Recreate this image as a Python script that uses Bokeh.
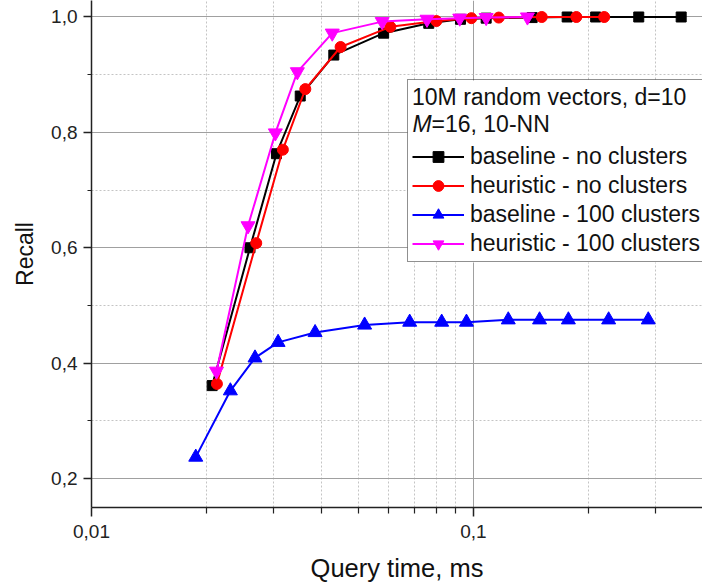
from bokeh.plotting import figure
from bokeh.models import (Range1d, FixedTicker, CustomJSTickFormatter, Legend,
                          LegendItem, Label, BoxAnnotation)
from bokeh.embed import file_html
from bokeh.resources import INLINE

# ---- data ----
bl_nc_x = [0.0207, 0.0260, 0.0305, 0.0352, 0.0431, 0.0582, 0.0764, 0.0925, 0.108, 0.1425, 0.176, 0.209, 0.271, 0.350]
bl_nc_y = [0.361, 0.600, 0.763, 0.863, 0.934, 0.972, 0.989, 0.996, 0.998, 0.999, 1.0, 1.0, 1.0, 1.0]

he_nc_x = [0.0213, 0.0270, 0.0317, 0.0363, 0.0449, 0.0606, 0.0800, 0.0988, 0.1165, 0.151, 0.186, 0.220]
he_nc_y = [0.364, 0.608, 0.770, 0.875, 0.948, 0.983, 0.993, 0.998, 0.999, 1.0, 1.0, 1.0]

bl_c_x = [0.01875, 0.0231, 0.0268, 0.0308, 0.0385, 0.0519, 0.0681, 0.0826, 0.0959, 0.1234, 0.149, 0.1773, 0.226, 0.287]
bl_c_y = [0.237, 0.352, 0.409, 0.436, 0.453, 0.466, 0.471, 0.471, 0.471, 0.475, 0.475, 0.475, 0.475, 0.475]

he_c_x = [0.02125, 0.0257, 0.0303, 0.0346, 0.0427, 0.0577, 0.0756, 0.0921, 0.108, 0.1385]
he_c_y = [0.386, 0.638, 0.799, 0.905, 0.972, 0.992, 0.996, 0.998, 0.999, 1.0]

series_labels = ["baseline - no clusters", "heuristic - no clusters",
                 "baseline - 100 clusters", "heuristic - 100 clusters"]
legend_title = "10M random vectors, d=10"
legend_sub_italic = "M"
legend_sub_rest = "=16, 10-NN"

x_major = [0.01, 0.1, 1.0]
x_minor = [0.02, 0.03, 0.04, 0.05, 0.06, 0.07, 0.08, 0.09,
           0.2, 0.3, 0.4, 0.5, 0.6, 0.7, 0.8, 0.9]
y_major = [0.2, 0.4, 0.6, 0.8, 1.0]
y_minor = [0.3, 0.5, 0.7, 0.9]

FONT = "Liberation Sans"

p = figure(width=702, height=587, x_axis_type="log",
           x_range=Range1d(0.01, 0.398), y_range=Range1d(0.1497, 1.0286),
           output_backend="svg", toolbar_location=None,
           min_border_left=91, min_border_right=0, min_border_top=0,
           min_border_bottom=80)
p.outline_line_color = None
p.background_fill_color = "white"
p.border_fill_color = "white"

# axes
p.xaxis.ticker = FixedTicker(ticks=x_major, minor_ticks=x_minor)
p.yaxis.ticker = FixedTicker(ticks=y_major, minor_ticks=y_minor)
p.xaxis.formatter = CustomJSTickFormatter(code="return tick.toString().replace('.', ',');")
p.yaxis.formatter = CustomJSTickFormatter(code="return tick.toFixed(1).replace('.', ',');")
for ax in (p.xaxis, p.yaxis):
    ax.axis_line_color = "#222222"
    ax.axis_line_width = 1.5
    ax.major_tick_line_color = "#222222"
    ax.minor_tick_line_color = "#222222"
    ax.major_tick_line_width = 1.5
    ax.minor_tick_line_width = 1.2
    ax.major_tick_in = 0
    ax.minor_tick_in = 0
    ax.major_label_text_font = FONT
    ax.major_label_text_font_size = "19px"
    ax.major_label_text_color = "#222222"
    ax.axis_label_text_font = FONT
    ax.axis_label_text_font_style = "normal"
    ax.axis_label_text_color = "#111111"
p.xaxis.major_tick_out = 9
p.xaxis.minor_tick_out = 6
p.yaxis.major_tick_out = 8
p.yaxis.minor_tick_out = 4
p.xaxis.major_label_standoff = 8
p.yaxis.major_label_standoff = 6
p.xaxis.axis_label = "Query time, ms"
p.yaxis.axis_label = "Recall"
p.xaxis.axis_label_text_font_size = "25.5px"
p.yaxis.axis_label_text_font_size = "23px"
p.xaxis.axis_label_standoff = 13
p.yaxis.axis_label_standoff = 10

# grids
for g in (p.xgrid, p.ygrid):
    g.grid_line_color = "#a0a0a0"
    g.grid_line_width = 1
    g.minor_grid_line_color = "#c4c4c4"
    g.minor_grid_line_dash = "2 2"
    g.minor_grid_line_width = 1

# white backing box for the legend (drawn above grid lines)
p.add_layout(BoxAnnotation(left=316, right=620, bottom=245, top=427,
                           left_units="screen", right_units="screen",
                           bottom_units="screen", top_units="screen",
                           fill_color="white", fill_alpha=1.0,
                           line_color=None, level="underlay"))

# series
specs = [
    (bl_nc_x, bl_nc_y, "#000000", "square", 10),
    (he_nc_x, he_nc_y, "#ff0000", "circle", 11),
    (bl_c_x, bl_c_y, "#0000ff", "triangle", 14),
    (he_c_x, he_c_y, "#ff00ff", "inverted_triangle", 14),
]
items = []
for (xs, ys, col, mk, sz), lab in zip(specs, series_labels):
    lr = p.line(xs, ys, line_color=col, line_width=2)
    sr = p.scatter(xs, ys, marker=mk, size=sz, fill_color=col, line_color=col)
    items.append(LegendItem(label=lab, renderers=[lr, sr]))

legend = Legend(items=items, location=(316, 245),
                title=legend_title,
                title_text_font=FONT, title_text_font_size="23px",
                title_text_font_style="normal", title_text_color="#111111",
                title_standoff=32,
                label_text_font=FONT, label_text_font_size="23px",
                label_text_color="#111111",
                glyph_width=52, glyph_height=27, label_height=27,
                label_standoff=6, spacing=2, padding=4, margin=0,
                border_line_color="#222222", border_line_width=1,
                background_fill_alpha=0.0)
p.add_layout(legend, "center")

p.add_layout(Label(x=321, y=384, x_units="screen", y_units="screen",
                   text=legend_sub_italic, text_font=FONT, text_font_size="23px",
                   text_font_style="italic", text_baseline="middle",
                   text_color="#111111"))
p.add_layout(Label(x=340, y=384, x_units="screen", y_units="screen",
                   text=legend_sub_rest, text_font=FONT, text_font_size="23px",
                   text_baseline="middle", text_color="#111111"))

open("out.html", "w").write(file_html(p, INLINE))
